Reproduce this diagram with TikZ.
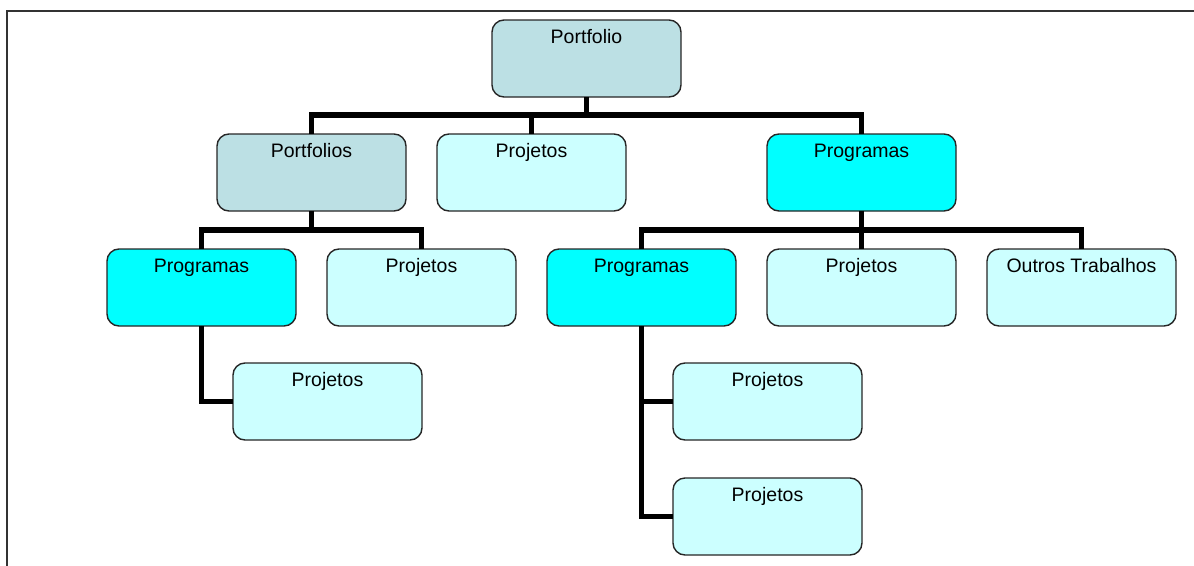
\documentclass[tikz,border=0pt]{standalone}
\usepackage{fontspec}
\setmainfont{Liberation Sans}
\definecolor{pfgray}{RGB}{188,224,228}
\definecolor{prjcyan}{RGB}{204,255,255}
\definecolor{prgcyan}{RGB}{0,255,255}
\tikzset{
  x=1pt, y=-1pt,
  orgbox/.style={draw=black!85, line width=1.4pt, rounded corners=12pt,
    minimum width=189pt, inner xsep=0pt, inner ysep=0pt, outer sep=0pt,
    text height=23.5pt, text depth=53.5pt, anchor=north west,
    font=\fontsize{19.5}{23}\selectfont},
  portbox/.style={orgbox, fill=pfgray},
  projbox/.style={orgbox, fill=prjcyan},
  progbox/.style={orgbox, fill=prgcyan},
  conn/.style={line width=5.5pt, black},
  frameline/.style={line width=2.8pt, black!80}
}
\begin{document}
\begin{tikzpicture}
\useasboundingbox (0,0) rectangle (1194,565);
% outer frame (open on the right and at the bottom)
\draw[frameline] (7,566) -- (7,11) -- (1195,11);

% boxes
\node[portbox] (root) at (492,20) {Portfolio};
\node[portbox] (pfs)  at (217,134) {Portfolios};
\node[projbox] (prj1) at (437,134) {Projetos};
\node[progbox] (prg)  at (767,134) {Programas};

\node[progbox] (lprg) at (107,249) {Programas};
\node[projbox] (lprj) at (327,249) {Projetos};
\node[progbox] (rprg) at (547,249) {Programas};
\node[projbox] (rprj) at (767,249) {Projetos};
\node[projbox] (out)  at (987,249) {Outros Trabalhos};

\node[projbox] (lprj3) at (233,363) {Projetos};
\node[projbox] (rprjA) at (673,363) {Projetos};
\node[projbox] (rprjB) at (673,478) {Projetos};

% stems with the junction points of the bars
\draw[conn] (root.south) -- ++(0,18) coordinate (j1);
\draw[conn] (pfs.south)  -- ++(0,19) coordinate (j2);
\draw[conn] (prg.south)  -- (rprj.north);
\coordinate (j3) at (prg.south |- j2);

% bars down to the boxes
\draw[conn] (pfs.north) |- (j1) -| (prg.north);
\draw[conn] (prj1.north) -- (prj1.north |- j1);
\draw[conn] (lprg.north) |- (j2) -| (lprj.north);
\draw[conn] (rprg.north) |- (j3) -| (out.north);

% side branches
\draw[conn] (lprg.south) |- (lprj3.west);
\draw[conn] (rprg.south) |- (rprjA.west);
\draw[conn] (rprg.south) |- (rprjB.west);
\end{tikzpicture}
\end{document}
